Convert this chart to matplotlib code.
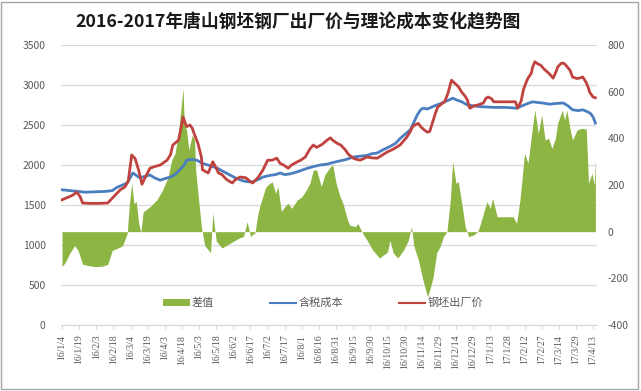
import matplotlib
matplotlib.use("Agg")
import matplotlib.pyplot as plt
from matplotlib.patches import Patch, Rectangle
from matplotlib.lines import Line2D
import pandas as pd

plt.rcParams['font.family'] = ['Noto Sans CJK SC', 'DejaVu Sans']
plt.rcParams['axes.unicode_minus'] = False

title = "2016-2017年唐山钢坯钢厂出厂价与理论成本变化趋势图"

# 钢坯出厂价 (左轴)
price = [
    ("16/1/4", 1565), ("16/1/8", 1590), ("16/1/13", 1620), ("16/1/17", 1660), ("16/1/20", 1600),
    ("16/1/22", 1525), ("16/1/29", 1520), ("16/2/6", 1520), ("16/2/13", 1525), ("16/2/18", 1600),
    ("16/2/24", 1690), ("16/2/28", 1725), ("16/3/2", 1800), ("16/3/5", 2125), ("16/3/8", 2080),
    ("16/3/11", 1940), ("16/3/14", 1760), ("16/3/17", 1850), ("16/3/21", 1960), ("16/3/25", 1980),
    ("16/3/30", 2000), ("16/4/5", 2060), ("16/4/8", 2130), ("16/4/10", 2250), ("16/4/15", 2310),
    ("16/4/17", 2450), ("16/4/19", 2600), ("16/4/21", 2520), ("16/4/22", 2480), ("16/4/25", 2500),
    ("16/4/27", 2460), ("16/4/29", 2380), ("16/5/2", 2270), ("16/5/5", 2100), ("16/5/6", 1940),
    ("16/5/11", 1900), ("16/5/15", 2040), ("16/5/18", 1960), ("16/5/20", 1900), ("16/5/23", 1880),
    ("16/5/27", 1820), ("16/6/1", 1775), ("16/6/4", 1820), ("16/6/8", 1850), ("16/6/13", 1840),
    ("16/6/17", 1790), ("16/6/19", 1775), ("16/6/24", 1850), ("16/6/28", 1940), ("16/7/2", 2060),
    ("16/7/6", 2060), ("16/7/10", 2085), ("16/7/13", 2020), ("16/7/16", 2000), ("16/7/20", 1960),
    ("16/7/23", 2000), ("16/7/28", 2040), ("16/7/31", 2060), ("16/8/4", 2100), ("16/8/8", 2200),
    ("16/8/11", 2250), ("16/8/14", 2220), ("16/8/19", 2260), ("16/8/23", 2310), ("16/8/26", 2340),
    ("16/8/28", 2310), ("16/9/1", 2270), ("16/9/4", 2250), ("16/9/8", 2190), ("16/9/11", 2130),
    ("16/9/15", 2085), ("16/9/18", 2070), ("16/9/21", 2060), ("16/9/24", 2080), ("16/9/27", 2100),
    ("16/10/1", 2090), ("16/10/6", 2085), ("16/10/10", 2120), ("16/10/15", 2165), ("16/10/19", 2190),
    ("16/10/23", 2225), ("16/10/26", 2250), ("16/10/29", 2300), ("16/11/1", 2350), ("16/11/4", 2420),
    ("16/11/6", 2480), ("16/11/8", 2500), ("16/11/11", 2520), ("16/11/13", 2480), ("16/11/16", 2440),
    ("16/11/19", 2410), ("16/11/21", 2420), ("16/11/24", 2560), ("16/11/26", 2650), ("16/11/28", 2725),
    ("16/12/1", 2760), ("16/12/4", 2790), ("16/12/7", 2900), ("16/12/10", 3060), ("16/12/13", 3020),
    ("16/12/16", 2980), ("16/12/19", 2910), ("16/12/22", 2860), ("16/12/24", 2810), ("16/12/26", 2710),
    ("16/12/30", 2740), ("17/1/2", 2750), ("17/1/7", 2775), ("17/1/9", 2830), ("17/1/11", 2850),
    ("17/1/14", 2830), ("17/1/16", 2790), ("17/1/22", 2790), ("17/1/28", 2790), ("17/2/4", 2790),
    ("17/2/6", 2710), ("17/2/9", 2800), ("17/2/11", 2940), ("17/2/13", 3020), ("17/2/15", 3085),
    ("17/2/18", 3150), ("17/2/19", 3220), ("17/2/21", 3290), ("17/2/24", 3260), ("17/2/26", 3250),
    ("17/3/1", 3200), ("17/3/5", 3150), ("17/3/7", 3120), ("17/3/9", 3085), ("17/3/12", 3180),
    ("17/3/13", 3225), ("17/3/16", 3270), ("17/3/18", 3275), ("17/3/20", 3250), ("17/3/24", 3180),
    ("17/3/26", 3100), ("17/3/30", 3080), ("17/4/2", 3090), ("17/4/4", 3100), ("17/4/7", 3030),
    ("17/4/9", 2960), ("17/4/10", 2910), ("17/4/13", 2850), ("17/4/15", 2840),
]

# 含税成本 (左轴)
cost = [
    ("16/1/4", 1690), ("16/1/11", 1680), ("16/1/18", 1670), ("16/1/24", 1660), ("16/2/2", 1665),
    ("16/2/11", 1670), ("16/2/17", 1680), ("16/2/21", 1720), ("16/2/26", 1750), ("16/3/1", 1775),
    ("16/3/4", 1850), ("16/3/6", 1900), ("16/3/9", 1870), ("16/3/12", 1840), ("16/3/17", 1860),
    ("16/3/21", 1875), ("16/3/25", 1840), ("16/3/30", 1810), ("16/4/3", 1830), ("16/4/8", 1850),
    ("16/4/12", 1880), ("16/4/16", 1940), ("16/4/20", 2000), ("16/4/22", 2060), ("16/4/27", 2070),
    ("16/5/1", 2060), ("16/5/6", 2020), ("16/5/13", 1990), ("16/5/19", 1960), ("16/5/24", 1920),
    ("16/5/30", 1875), ("16/6/5", 1830), ("16/6/11", 1800), ("16/6/15", 1790), ("16/6/19", 1790),
    ("16/6/24", 1820), ("16/6/28", 1850), ("16/7/4", 1870), ("16/7/9", 1880), ("16/7/13", 1900),
    ("16/7/17", 1880), ("16/7/22", 1890), ("16/7/28", 1915), ("16/8/2", 1940), ("16/8/6", 1960),
    ("16/8/11", 1980), ("16/8/17", 2000), ("16/8/23", 2010), ("16/8/28", 2030), ("16/9/3", 2050),
    ("16/9/9", 2070), ("16/9/15", 2100), ("16/9/21", 2110), ("16/9/27", 2120), ("16/10/1", 2140),
    ("16/10/6", 2150), ("16/10/11", 2190), ("16/10/17", 2230), ("16/10/22", 2270), ("16/10/26", 2330),
    ("16/10/30", 2380), ("16/11/4", 2440), ("16/11/6", 2500), ("16/11/10", 2625), ("16/11/13", 2690),
    ("16/11/15", 2710), ("16/11/19", 2700), ("16/11/22", 2720), ("16/11/27", 2750), ("16/12/1", 2770),
    ("16/12/4", 2790), ("16/12/9", 2820), ("16/12/11", 2835), ("16/12/15", 2810), ("16/12/19", 2790),
    ("16/12/24", 2750), ("16/12/29", 2740), ("17/1/4", 2730), ("17/1/10", 2725), ("17/1/17", 2720),
    ("17/1/26", 2720), ("17/2/1", 2715), ("17/2/5", 2710), ("17/2/10", 2740), ("17/2/15", 2770),
    ("17/2/19", 2790), ("17/2/24", 2780), ("17/2/28", 2775), ("17/3/6", 2760), ("17/3/12", 2770),
    ("17/3/18", 2775), ("17/3/22", 2740), ("17/3/26", 2690), ("17/3/31", 2680), ("17/4/4", 2690),
    ("17/4/9", 2660), ("17/4/11", 2640), ("17/4/13", 2600), ("17/4/15", 2525),
]

# 差值 (右轴)
gap = [
    ("16/1/4", -150), ("16/1/7", -130), ("16/1/11", -90), ("16/1/15", -60), ("16/1/18", -80),
    ("16/1/22", -140), ("16/1/27", -145), ("16/2/2", -150), ("16/2/8", -148), ("16/2/13", -140),
    ("16/2/17", -80), ("16/2/22", -70), ("16/2/26", -60), ("16/2/29", -20), ("16/3/1", -10),
    ("16/3/3", 120), ("16/3/5", 208), ("16/3/7", 120), ("16/3/9", 130), ("16/3/11", 40),
    ("16/3/13", -5), ("16/3/15", 84), ("16/3/21", 107), ("16/3/27", 136), ("16/4/1", 178),
    ("16/4/6", 235), ("16/4/9", 307), ("16/4/12", 336), ("16/4/15", 428), ("16/4/17", 521),
    ("16/4/19", 615), ("16/4/20", 460), ("16/4/22", 436), ("16/4/24", 350), ("16/4/27", 414),
    ("16/4/29", 393), ("16/4/30", 264), ("16/5/2", 164), ("16/5/5", 21), ("16/5/6", -7),
    ("16/5/8", -60), ("16/5/13", -90), ("16/5/15", 80), ("16/5/18", -40), ("16/5/23", -70),
    ("16/5/30", -50), ("16/6/6", -30), ("16/6/11", -20), ("16/6/14", 43), ("16/6/17", -20),
    ("16/6/21", -5), ("16/6/23", 64), ("16/6/25", 107), ("16/6/30", 186), ("16/7/2", 200),
    ("16/7/6", 214), ("16/7/9", 164), ("16/7/11", 193), ("16/7/14", 86), ("16/7/17", 107),
    ("16/7/20", 122), ("16/7/23", 100), ("16/7/28", 136), ("16/8/1", 150), ("16/8/4", 171),
    ("16/8/8", 207), ("16/8/11", 264), ("16/8/14", 264), ("16/8/18", 193), ("16/8/21", 243),
    ("16/8/26", 278), ("16/8/28", 286), ("16/8/31", 207), ("16/9/3", 157), ("16/9/6", 121),
    ("16/9/10", 50), ("16/9/12", 28), ("16/9/17", 21), ("16/9/19", 36), ("16/9/23", -5),
    ("16/9/27", -36), ("16/10/2", -79), ("16/10/8", -113), ("16/10/15", -87), ("16/10/17", -36),
    ("16/10/20", -91), ("16/10/24", -113), ("16/10/29", -79), ("16/11/2", -40), ("16/11/5", 21),
    ("16/11/7", -60), ("16/11/11", -121), ("16/11/15", -207), ("16/11/19", -279), ("16/11/21", -250),
    ("16/11/24", -193), ("16/11/27", -91), ("16/11/30", -64), ("16/12/3", -21), ("16/12/6", 0),
    ("16/12/9", 136), ("16/12/11", 300), ("16/12/14", 207), ("16/12/16", 214), ("16/12/19", 122),
    ("16/12/22", 21), ("16/12/25", -21), ("16/12/29", -15), ("17/1/2", 0), ("17/1/4", 28),
    ("17/1/10", 128), ("17/1/13", 100), ("17/1/15", 143), ("17/1/19", 64), ("17/2/2", 64),
    ("17/2/5", 36), ("17/2/8", 136), ("17/2/12", 336), ("17/2/15", 293), ("17/2/19", 450),
    ("17/2/21", 521), ("17/2/24", 420), ("17/2/27", 500), ("17/3/2", 393), ("17/3/5", 400),
    ("17/3/8", 357), ("17/3/11", 400), ("17/3/13", 465), ("17/3/17", 521), ("17/3/19", 479),
    ("17/3/21", 521), ("17/3/24", 436), ("17/3/26", 393), ("17/3/30", 436), ("17/4/3", 443),
    ("17/4/7", 440), ("17/4/9", 207), ("17/4/12", 250), ("17/4/14", 200), ("17/4/15", 307),
]

tick_labels = [
    "16/1/4", "16/1/19", "16/2/3", "16/2/18", "16/3/4", "16/3/19", "16/4/3", "16/4/18",
    "16/5/3", "16/5/18", "16/6/2", "16/6/17", "16/7/2", "16/7/17", "16/8/1", "16/8/16",
    "16/8/31", "16/9/15", "16/9/30", "16/10/15", "16/10/30", "16/11/14", "16/11/29",
    "16/12/14", "16/12/29", "17/1/13", "17/1/28", "17/2/12", "17/2/27", "17/3/14",
    "17/3/29", "17/4/13",
]


def to_series(pairs):
    d = pd.to_datetime([p[0] for p in pairs], format="%y/%m/%d")
    v = [p[1] for p in pairs]
    return d, v


price_x, price_y = to_series(price)
cost_x, cost_y = to_series(cost)
gap_x, gap_y = to_series(gap)
tick_x = pd.to_datetime(tick_labels, format="%y/%m/%d")

W, H = 641, 391
fig = plt.figure(figsize=(W / 100, H / 100), dpi=100)
x0, x1, y0, y1 = 60.9, 596.5, 45, 325
rect = [x0 / W, 1 - y1 / H, (x1 - x0) / W, (y1 - y0) / H]

grey = "#595959"
gridc = "#D9D9D9"

# 底层: 左轴 + 网格
ax = fig.add_axes(rect)
ax.set_ylim(0, 3500)
ax.set_yticks(range(0, 3501, 500))
ax.grid(axis="y", color=gridc, lw=0.9)
ax.set_axisbelow(True)

# 中层: 右轴 差值面积
ax2 = ax.twinx()
ax2.fill_between(gap_x, gap_y, 0, color="#8DB543", lw=0, label="差值")
ax2.set_ylim(-400, 800)
ax2.set_yticks(range(-400, 801, 200))

# 上层: 价格线
ax3 = ax.twinx()
ax3.plot(cost_x, cost_y, color="#4A7EBF", lw=2.0, label="含税成本")
ax3.plot(price_x, price_y, color="#C0423F", lw=2.0, label="钢坯出厂价")
ax3.set_ylim(0, 3500)
ax3.set_yticks([])

xlim = (pd.Timestamp("2016-01-03"), pd.Timestamp("2017-04-16"))
for a in (ax, ax2, ax3):
    a.set_xlim(*xlim)
    for s in a.spines.values():
        s.set_visible(False)

ax.spines["bottom"].set_visible(True)
ax.spines["bottom"].set_color(gridc)
ax.set_xticks(tick_x)
ax.set_xticklabels(tick_labels, rotation=90, fontsize=7, color=grey,
                   family=["Liberation Serif", "DejaVu Serif"])
ax.tick_params(axis="x", length=3, color=gridc, pad=4)
ax.tick_params(axis="y", length=0, pad=11, labelsize=7.5, labelcolor=grey)
ax2.tick_params(axis="y", length=0, pad=8, labelsize=7.5, labelcolor=grey)
ax2.tick_params(axis="x", bottom=False, labelbottom=False)
ax3.tick_params(axis="x", bottom=False, labelbottom=False)

fig.text(298 / W, 1 - 22 / H, title, ha="center", va="center",
         fontsize=12.8, fontweight="bold", color="#1A1A1A")

handles = [Patch(facecolor="#8DB543", edgecolor="none"),
           Line2D([], [], color="#4A7EBF", lw=1.5),
           Line2D([], [], color="#C0423F", lw=1.5)]
fig.legend(handles, ["差值", "含税成本", "钢坯出厂价"], loc="center",
           bbox_to_anchor=(323 / W, 1 - 303 / H), ncol=3, frameon=False,
           fontsize=8, labelcolor=grey, handlelength=2.4, handleheight=0.5,
           handletextpad=0.2, columnspacing=5.0)

fig.patches.append(Rectangle((1 / W, 2 / H), (W - 4) / W, (H - 4) / H,
                             transform=fig.transFigure, fill=False,
                             edgecolor="#A6A6A6", lw=1))

fig.savefig("out.png", dpi=100)
